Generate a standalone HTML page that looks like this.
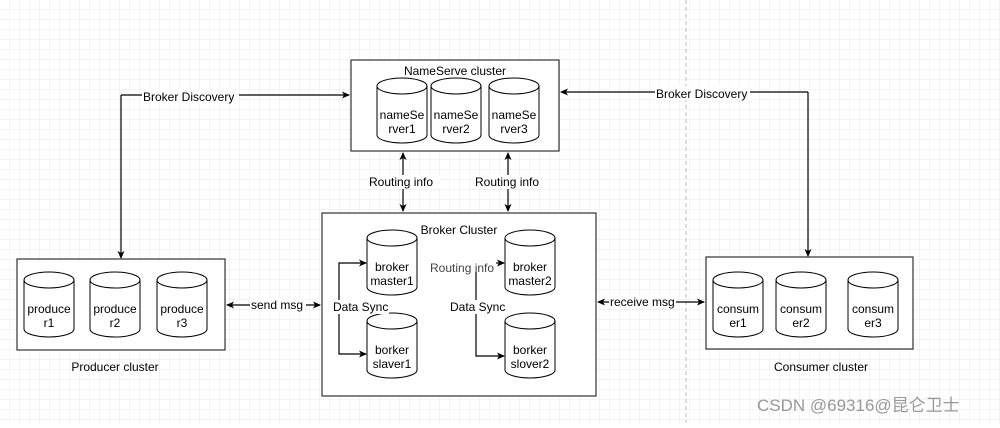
<!DOCTYPE html>
<html><head><style>
body{margin:0;background:#fff}
svg text{font-family:"Liberation Sans","Noto Sans CJK SC",sans-serif;font-size:12px;fill:#000}
</style></head><body>
<svg width="1000" height="423" xmlns="http://www.w3.org/2000/svg">
<defs>
<pattern id="g" width="10" height="10" patternUnits="userSpaceOnUse"><path d="M10 0V10M0 10H10" stroke="#e8e8e8" stroke-width="1" fill="none"/></pattern>
<marker id="a" markerWidth="8" markerHeight="8" refX="7" refY="4" orient="auto-start-reverse" markerUnits="userSpaceOnUse"><path d="M0,0.5 L8,4 L0,7.5 L2,4z" fill="#000"/></marker>
<path id="c" d="M0 8A25 8 0 0 1 50 8V57A25 8 0 0 1 0 57Z M0 8A25 8 0 0 0 50 8"/>
</defs>
<rect width="1000" height="423" fill="url(#g)"/>
<line x1="686" y1="0" x2="686" y2="423" stroke="#bbb" stroke-dasharray="4,3"/>
<g fill="#fff" stroke="#333" stroke-width="1.2">
<rect x="351" y="60" width="208" height="91"/>
<rect x="322" y="213" width="274" height="183"/>
<rect x="17" y="259" width="208" height="91"/>
<rect x="706" y="257" width="207" height="92"/>
</g>
<g fill="none" stroke="#000" stroke-width="1.2">
<path d="M121 95H349" marker-end="url(#a)"/><path d="M121 95V258" marker-end="url(#a)"/>
<path d="M808 92H561" marker-end="url(#a)"/><path d="M808 92V256" marker-end="url(#a)"/>
<path d="M403 153V211" marker-start="url(#a)" marker-end="url(#a)"/>
<path d="M508 153V211" marker-start="url(#a)" marker-end="url(#a)"/>
<path d="M227 305H320" marker-start="url(#a)" marker-end="url(#a)"/>
<path d="M598 302H704" marker-start="url(#a)" marker-end="url(#a)"/>
<path d="M366 263H339V354H366" marker-start="url(#a)" marker-end="url(#a)"/>
<path d="M476 272V356H504" marker-end="url(#a)"/>
<path d="M496 263H504" marker-end="url(#a)"/>
</g>
<g fill="#fff" stroke="#000" stroke-width="1">
<use href="#c" x="377" y="78"/><use href="#c" x="431" y="78"/><use href="#c" x="489" y="78"/>
<use href="#c" x="367" y="230"/><use href="#c" x="367" y="313"/><use href="#c" x="505" y="230"/><use href="#c" x="505" y="313"/>
<use href="#c" x="24" y="272"/><use href="#c" x="90" y="272"/><use href="#c" x="157" y="272"/>
<use href="#c" x="713" y="272"/><use href="#c" x="776" y="272"/><use href="#c" x="848" y="272"/>
</g>
<g text-anchor="middle">
<text x="455" y="75">NameServe cluster</text>
<text x="402" y="119">nameSe</text><text x="402" y="133">rver1</text>
<text x="456" y="119">nameSe</text><text x="456" y="133">rver2</text>
<text x="514" y="119">nameSe</text><text x="514" y="133">rver3</text>
<text x="459" y="234">Broker Cluster</text>
<text x="392" y="271">broker</text><text x="392" y="285">master1</text>
<text x="392" y="354">borker</text><text x="392" y="368">slaver1</text>
<text x="530" y="271">broker</text><text x="530" y="285">master2</text>
<text x="530" y="354">borker</text><text x="530" y="368">slover2</text>
<text x="49" y="313">produce</text><text x="49" y="327">r1</text>
<text x="115" y="313">produce</text><text x="115" y="327">r2</text>
<text x="182" y="313">produce</text><text x="182" y="327">r3</text>
<text x="738" y="313">consum</text><text x="738" y="327">er1</text>
<text x="801" y="313">consum</text><text x="801" y="327">er2</text>
<text x="873" y="313">consum</text><text x="873" y="327">er3</text>
<text x="115" y="371">Producer cluster</text>
<text x="821" y="371">Consumer cluster</text>
</g>
<g>
<rect x="142" y="89" width="97" height="14" fill="#fff"/><text x="143" y="101">Broker Discovery</text>
<rect x="655" y="86" width="95" height="14" fill="#fff"/><text x="656" y="98">Broker Discovery</text>
<rect x="368" y="175" width="72" height="14" fill="#fff"/><text x="369" y="186">Routing info</text>
<rect x="474" y="175" width="72" height="14" fill="#fff"/><text x="475" y="186">Routing info</text>
<rect x="250" y="298" width="56" height="14" fill="#fff"/><text x="251" y="309">send msg</text>
<rect x="609" y="295" width="67" height="14" fill="#fff"/><text x="610" y="306">receive msg</text>
<rect x="332" y="300" width="57" height="14" fill="#fff"/><text x="333" y="311">Data Sync</text>
<rect x="449" y="300" width="57" height="14" fill="#fff"/><text x="450" y="311">Data Sync</text>
<text x="430" y="272" style="fill:#444">Routing info</text>
<text x="757" y="411" style="font-size:17px;fill:#999">CSDN @69316@昆仑卫士</text>
</g>
</svg>
</body></html>
